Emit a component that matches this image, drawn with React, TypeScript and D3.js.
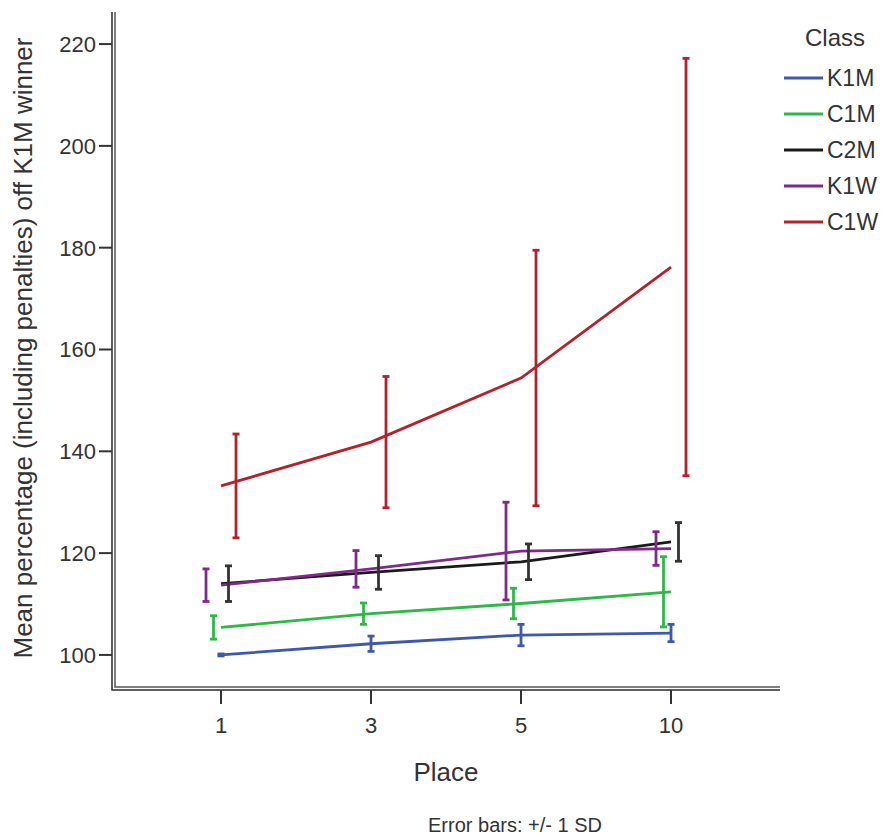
import React from "react";
import * as d3 from "d3";

const places = ["1", "3", "5", "10"];
const classes = ["K1M", "C1M", "C2M", "K1W", "C1W"];
const dodgeOrder = ["K1W", "C1M", "K1M", "C2M", "C1W"];
const colors = ["#3e58ac", "#2eb848", "#1a1a1a", "#7f2a8a", "#b5202a"];
const barColors = ["#3e58ac", "#2eb848", "#333333", "#7f2a8a", "#b5202a"];

const meanK1M = [100.0, 102.2, 103.9, 104.3];
const sdK1M = [0.2, 1.5, 2.1, 1.7];
const meanC1M = [105.4, 108.1, 110.1, 112.4];
const sdC1M = [2.3, 2.1, 3.0, 6.9];
const meanC2M = [114.0, 116.2, 118.3, 122.2];
const sdC2M = [3.5, 3.3, 3.5, 3.8];
const meanK1W = [113.7, 116.9, 120.4, 120.9];
const sdK1W = [3.2, 3.6, 9.6, 3.3];
const meanC1W = [133.2, 141.8, 154.4, 176.2];
const sdC1W = [10.2, 12.9, 25.1, 41.0];

const yTicks = [100, 120, 140, 160, 180, 200, 220];

const means = [meanK1M, meanC1M, meanC2M, meanK1W, meanC1W];
const sds = [sdK1M, sdC1M, sdC2M, sdK1W, sdC1W];

export default function App() {
  const W = 894, H = 836;
  const font = "'Liberation Sans', Arial, sans-serif";
  const textColor = "#333";
  const x = d3.scalePoint<string>().domain(places).range([221, 671]);
  const dodge = d3.scalePoint<string>().domain(dodgeOrder).range([-15, 15]);
  const y = d3.scaleLinear().domain([93.7, 226.3]).range([687, 12]);
  const axisLeft = 112, axisBottom = 687, axisRight = 780, axisTop = 12;
  const line = d3.line<[string, number]>().x(d => x(d[0])!).y(d => y(d[1]));

  return (
    <svg width={W} height={H} style={{ position: "absolute", left: 0, top: 0, background: "#fff" }}>
      <rect width={W} height={H} fill="#fff" />
      {/* axes frame (double line) */}
      <path d={`M${axisLeft},${axisTop}V${axisBottom + 3}H${axisRight}`} fill="none" stroke="#2a2a2a" strokeWidth={1.5} />
      <path d={`M${axisLeft + 3},${axisTop}V${axisBottom}H${axisRight}`} fill="none" stroke="#555" strokeWidth={1.5} />
      {/* y ticks */}
      {yTicks.map(t => (
        <g key={t}>
          <line x1={axisLeft - 13} x2={axisLeft} y1={y(t)} y2={y(t)} stroke="#333" strokeWidth={2} />
          <text x={axisLeft - 16} y={y(t)} dy="0.36em" textAnchor="end" fontFamily={font} fontSize={22} fill={textColor}>{t}</text>
        </g>
      ))}
      {/* x ticks */}
      {places.map(p => (
        <g key={p}>
          <line x1={x(p)} x2={x(p)} y1={axisBottom + 3} y2={axisBottom + 17} stroke="#333" strokeWidth={2} />
          <text x={x(p)} y={axisBottom + 46} textAnchor="middle" fontFamily={font} fontSize={22} fill={textColor}>{p}</text>
        </g>
      ))}
      <text x={446} y={781} textAnchor="middle" fontFamily={font} fontSize={26} fill={textColor}>Place</text>
      <text x={515} y={832} textAnchor="middle" fontFamily={font} fontSize={20} fill={textColor}>Error bars: +/- 1 SD</text>
      <text transform={`translate(32,348) rotate(-90)`} textAnchor="middle" fontFamily={font} fontSize={26} fill={textColor}>
        Mean percentage (including penalties) off K1M winner
      </text>
      {/* lines */}
      {classes.map((c, i) => (
        <path key={c} d={line(places.map((p, j) => [p, means[i][j]] as [string, number]))!} fill="none" stroke={colors[i]} strokeWidth={2.8} />
      ))}
      {/* error bars */}
      {classes.map((c, i) => (
        <g key={c} stroke={barColors[i]} strokeWidth={2.8}>
          {places.map((p, j) => {
            const cx = x(p)! + dodge(c)!;
            const top = y(means[i][j] + sds[i][j]);
            const bot = y(means[i][j] - sds[i][j]);
            return (
              <g key={p}>
                <line x1={cx} x2={cx} y1={top} y2={bot} />
                <line x1={cx - 3.5} x2={cx + 3.5} y1={top} y2={top} />
                <line x1={cx - 3.5} x2={cx + 3.5} y1={bot} y2={bot} />
              </g>
            );
          })}
        </g>
      ))}
      {/* legend */}
      <text x={805} y={46} fontFamily={font} fontSize={24} fill={textColor}>Class</text>
      {classes.map((c, i) => (
        <g key={c} transform={`translate(0,${78 + i * 36})`}>
          <line x1={784} x2={823} y1={0} y2={0} stroke={colors[i]} strokeWidth={2.8} />
          <text x={827} y={0} dy="0.36em" fontFamily={font} fontSize={23} fill={textColor}>{c}</text>
        </g>
      ))}
    </svg>
  );
}
